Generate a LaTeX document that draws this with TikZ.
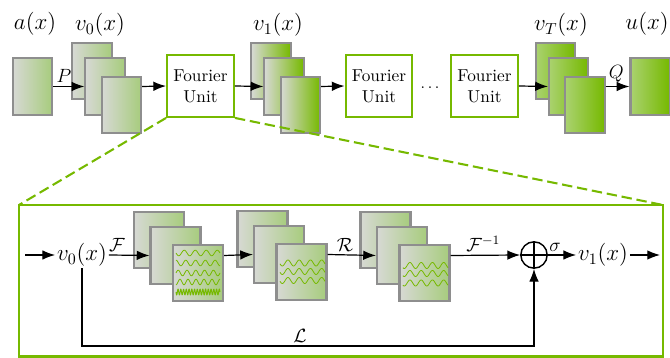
\documentclass[tikz,border=0pt]{standalone}
\usepackage{amsmath,amssymb}
\usetikzlibrary{arrows.meta,positioning}
\definecolor{nvgreen}{HTML}{76B900}
\definecolor{fmgray}{HTML}{8E8E8E}
\definecolor{fmpale}{HTML}{D7D9D4}
\definecolor{fmsoft}{HTML}{A7CC7D}
\definecolor{fmlime}{HTML}{AAD270}
\tikzset{
  fmap/.style   ={draw=fmgray, line width=1.3pt, minimum width=8.6mm, minimum height=12.5mm, inner sep=0pt},
  pale/.style   ={fmap, left color=fmpale, right color=fmsoft},
  vivid/.style  ={fmap, left color=fmpale, right color=nvgreen},
  lush/.style   ={fmap, left color=fmlime, right color=nvgreen},
  spec/.style   ={pale, minimum width=11mm},
  funit/.style  ={draw=nvgreen, line width=1.3pt, fill=white, minimum width=14.7mm,
                  minimum height=13.6mm, align=center, inner sep=0pt, font=\fontsize{10.8}{13}\selectfont},
  fnlabel/.style={font=\Large, inner sep=1pt},
  oplabel/.style={font=\large, inner sep=2pt},
  wave/.style   ={nvgreen, line width=0.5pt},
  flow/.style   ={-{Latex[length=2.8mm,width=2.1mm]}, line width=0.75pt},
  zoomline/.style={nvgreen, line width=1.3pt, dash pattern=on 6.5pt off 3pt},
}

\begin{document}
\begin{tikzpicture}[x=0.022cm, y=-0.022cm]
    \useasboundingbox (0,0) rectangle (670,358);
    % --- lifting, Fourier units, projection ---
    \node[pale] (a) at (32.5,86.5) {};
    \node[fnlabel] (alab) at (35,24) {$a(x)$};
    \foreach \i/\dx/\dy in {1/0/0,2/13/15.5,3/29.5/34}
      \node[pale] (v0-\i) at ({92+\dx},{71+\dy}) {};
    \node[fnlabel] (v0lab) at (100,25) {$v_0(x)$};
    \node[funit] (fu1) at (200.5,86) {Fourier\\Unit};
    \foreach \i/\dx/\dy in {1/0/0,2/13/15.5,3/29.5/34}
      \node[vivid] (v1-\i) at ({271+\dx},{71+\dy}) {};
    \node[fnlabel] (v1lab) at (278,25) {$v_1(x)$};
    \node[funit] (fu2) at (379,86) {Fourier\\Unit};
    \node (dots) at (430,88) {$\ldots$};
    \node[funit] (fu3) at (484.5,86) {Fourier\\Unit};
    \foreach \i/\dx/\dy in {1/0/0,2/13/15.5,3/29.5/34}
      \node[lush] (vT-\i) at ({555.5+\dx},{71+\dy}) {};
    \node[fnlabel] (vTlab) at (561,25) {$v_T(x)$};
    \node[lush] (u) at (650,86.5) {};
    \node[fnlabel] (ulab) at (647,24) {$u(x)$};

    \draw[flow] (a.east) -- node[oplabel,above,pos=0.35]{$P$} (v0-2.west);
    \draw[flow] (v0-3.east |- v0-2.east) -- (fu1.west);
    \draw[flow] (fu1.east) -- (v1-2.west);
    \draw[flow] (v1-3.east |- v1-2.east) -- (fu2.west);
    \draw[flow] (fu3.east) -- (vT-2.west);
    \draw[flow] (vT-3.east |- vT-2.east) -- node[oplabel,above,pos=0.45]{$Q$} (u.west);

    % --- inside one Fourier unit ---
    \coordinate (zoomtl) at (19,205);
    \coordinate (zoombr) at (663,356.5);
    \draw[nvgreen, line width=1.3pt] (zoomtl) rectangle (zoombr);
    \draw[zoomline] (fu1.south west) -- (zoomtl);
    \draw[zoomline] (fu1.south east) -- (zoomtl -| zoombr);

    \coordinate (in) at (25,255);
    \node[fnlabel] (v0b) at (82,255) {$v_0(x)$};
    \foreach \i/\dx/\dy in {1/0/0,2/16.5/15.5,3/39/33}
      \node[spec] (s1-\i) at ({159+\dx},{240+\dy}) {};
    \foreach \i/\dx/\dy in {1/0/0,2/16.5/15.5,3/39/33}
      \node[spec] (s2-\i) at ({262.5+\dx},{239+\dy}) {};
    \foreach \i/\dx/\dy in {1/0/0,2/16.5/15.5,3/39/33}
      \node[spec] (s3-\i) at ({385.5+\dx},{240+\dy}) {};
    \node[draw, circle, minimum size=5.8mm, line width=0.9pt, inner sep=0pt] (plus) at (534,255) {};
    \draw[line width=0.9pt] (plus.north) -- (plus.south) (plus.west) -- (plus.east);
    \node[fnlabel] (v1b) at (603,255) {$v_1(x)$};
    \coordinate (out) at (660,255);
    \coordinate (lbot) at (300,346);

    % modes in the spectral maps
    \foreach \yy/\nn in {-20/4,-10/4.5,0/5,9/5.5}
      \draw[wave] plot[domain=-22:22, samples=90] ({198+\x},{273+\yy+2.8*sin(\x/44*\nn*360)});
    \draw[wave, line width=0.6pt] plot[domain=-22:22, samples=260] ({198+\x},{292+2.8*sin(\x/44*16*360)});
    \foreach \yy in {-8.5,0,9}
      \draw[wave] plot[domain=-22:23, samples=90] ({302+\x},{271.5+\yy+3*sin(\x/45*4*360)});
    \foreach \yy in {-8,0,9.5}
      \draw[wave] plot[domain=-21:24, samples=90] ({424+\x},{273.5+\yy+3*sin(\x/45*4*360)});

    \draw[flow] (in) -- (v0b.west);
    \draw[flow] (v0b.east) -- node[oplabel,above,pos=0.2]{$\mathcal{F}$} (s1-2.west);
    \draw[flow] (s1-3.east |- s1-2.east) -- (s2-2.west);
    \draw[flow] (s2-3.east |- s2-2.east) -- node[oplabel,above,pos=0.36]{$\mathcal{R}$} (s3-2.west);
    \draw[flow] (s3-3.east |- s3-2.east) -- node[oplabel,above,pos=0.47]{$\mathcal{F}^{-1}$} (plus.west);
    \draw[flow] (plus.east) -- node[oplabel,above,pos=0.25]{$\sigma$} (v1b.west);
    \draw[flow] (v1b.east) -- (out);
    \draw[flow] (v0b.south) |- (lbot) -| (plus.south);
    \node[oplabel,above] (llab) at (lbot) {$\mathcal{L}$};
  \end{tikzpicture}
\end{document}
